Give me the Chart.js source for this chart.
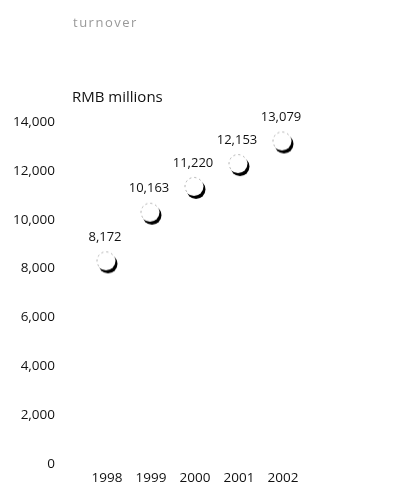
<!DOCTYPE html>
<html>
<head>
<meta charset="utf-8">
<script src="https://cdn.jsdelivr.net/npm/chart.js@4"></script>
<style>
  html, body { margin: 0; padding: 0; background: #fff; overflow: hidden; }
  #wrap { position: relative; width: 396px; height: 485px; overflow: hidden; }
  #c { position: absolute; left: 0; top: 0; }
  .t { position: absolute; font-family: 'Open Sans', sans-serif; color: #111; white-space: nowrap; }
  #head { left: 73px; top: 13px; font-size: 13px; color: #999; letter-spacing: 1.5px; }
  #unit { left: 72px; top: 86px; font-size: 15px; }
</style>
</head>
<body>
<div id="wrap">
  <canvas id="c" width="396" height="502"></canvas>
  <div class="t" id="head">turnover</div>
  <div class="t" id="unit">RMB millions</div>
</div>
<script>
const YEARS = ['1998', '1999', '2000', '2001', '2002']
const TURNOVER = [8172, 10163, 11220, 12153, 13079]
const Y_MAX = 14000
const Y_STEP = 2000

// white ball with a dark shadow crescent, like the printed marker
function mkMarker() {
  const cv = document.createElement('canvas')
  cv.width = 28; cv.height = 28
  const g = cv.getContext('2d')
  g.fillStyle = '#000'
  g.beginPath(); g.arc(15, 13.5, 9.5, 0, Math.PI * 2); g.fill()
  g.fillStyle = '#fff'
  g.beginPath(); g.arc(13, 10.5, 9.5, 0, Math.PI * 2); g.fill()
  g.strokeStyle = '#999'; g.lineWidth = 0.8; g.setLineDash([2, 3])
  g.beginPath(); g.arc(13, 10.5, 9, Math.PI * 0.8, Math.PI * 1.9); g.stroke()
  return cv
}

const valueLabels = {
  id: 'valueLabels',
  afterDatasetsDraw(chart) {
    const ctx = chart.ctx
    const meta = chart.getDatasetMeta(0)
    ctx.save()
    ctx.font = '13px "Open Sans", sans-serif'
    ctx.fillStyle = '#111'
    ctx.textAlign = 'center'
    ctx.textBaseline = 'middle'
    meta.data.forEach((pt, i) => {
      ctx.fillText(TURNOVER[i].toLocaleString('en-US'), pt.x - 2, pt.y - 27)
    })
    ctx.restore()
  }
}

const tickFont = { family: '"Open Sans", sans-serif', size: 13.5 }

new Chart(document.getElementById('c'), {
  type: 'line',
  data: {
    labels: YEARS,
    datasets: [{
      data: TURNOVER,
      showLine: false,
      pointStyle: mkMarker(),
      pointRadius: 10,
      pointHoverRadius: 10,
    }],
  },
  options: {
    responsive: false, animation: false,
    layout: { autoPadding: false, padding: { left: 12, right: 91, top: 122, bottom: 0 } },
    plugins: { legend: { display: false }, tooltip: { enabled: false } },
    scales: {
      x: {
        offset: true,
        grid: { display: false, drawTicks: false }, border: { display: false },
        ticks: { color: '#111', font: tickFont, padding: 6, maxRotation: 0 },
      },
      y: {
        min: 0, max: Y_MAX,
        grid: { display: false, drawTicks: false }, border: { display: false },
        ticks: { stepSize: Y_STEP, color: '#111', font: tickFont, padding: 30 },
        afterFit(s) { s.width = 73 },
      },
    },
  },
  plugins: [valueLabels],
})
</script>
</body>
</html>
